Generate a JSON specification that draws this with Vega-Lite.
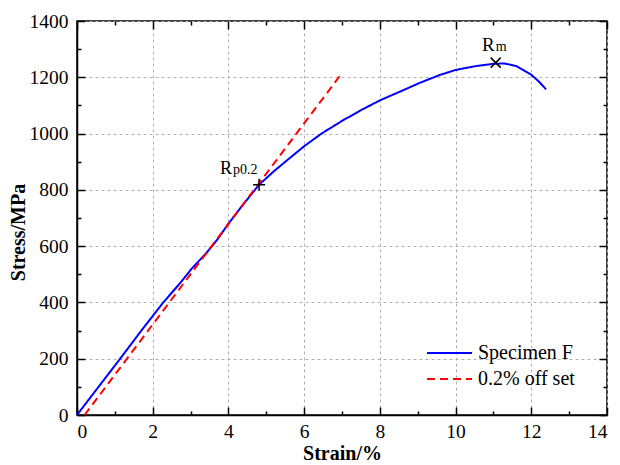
{
  "$schema": "https://vega.github.io/schema/vega-lite/v6.json",
  "width": 530,
  "height": 394,
  "autosize": "none",
  "padding": {"left": 77, "top": 21, "right": 13, "bottom": 50},
  "background": "white",
  "config": {
    "view": {"stroke": "black", "strokeWidth": 1.5},
    "font": "Liberation Serif",
    "axis": {"tickColor": "black", "tickWidth": 1.5, "domainColor": "black", "domainWidth": 1.5, "labelColor": "black", "titleColor": "black", "labelFont": "Liberation Serif", "titleFont": "Liberation Serif"},
    "legend": {"labelFont": "Liberation Serif"},
    "text": {"font": "Liberation Serif"}
  },
  "datasets": {
    "curves": [
      {"series": "Specimen F", "strain": 0, "stress": 0},
      {"series": "Specimen F", "strain": 0.5, "stress": 88},
      {"series": "Specimen F", "strain": 1.14, "stress": 200},
      {"series": "Specimen F", "strain": 1.7, "stress": 300},
      {"series": "Specimen F", "strain": 2.28, "stress": 400},
      {"series": "Specimen F", "strain": 2.72, "stress": 468},
      {"series": "Specimen F", "strain": 3.03, "stress": 520},
      {"series": "Specimen F", "strain": 3.4, "stress": 573},
      {"series": "Specimen F", "strain": 3.7, "stress": 622},
      {"series": "Specimen F", "strain": 4.0, "stress": 680},
      {"series": "Specimen F", "strain": 4.4, "stress": 750},
      {"series": "Specimen F", "strain": 4.81, "stress": 818},
      {"series": "Specimen F", "strain": 5.2, "stress": 866},
      {"series": "Specimen F", "strain": 5.53, "stress": 903},
      {"series": "Specimen F", "strain": 6.0, "stress": 955},
      {"series": "Specimen F", "strain": 6.46, "stress": 1000},
      {"series": "Specimen F", "strain": 7.0, "stress": 1045},
      {"series": "Specimen F", "strain": 7.5, "stress": 1083},
      {"series": "Specimen F", "strain": 8.0, "stress": 1118},
      {"series": "Specimen F", "strain": 8.6, "stress": 1153},
      {"series": "Specimen F", "strain": 9.05, "stress": 1180},
      {"series": "Specimen F", "strain": 9.58, "stress": 1208},
      {"series": "Specimen F", "strain": 10.0, "stress": 1226},
      {"series": "Specimen F", "strain": 10.5, "stress": 1239},
      {"series": "Specimen F", "strain": 11.0, "stress": 1248},
      {"series": "Specimen F", "strain": 11.3, "stress": 1249},
      {"series": "Specimen F", "strain": 11.6, "stress": 1240},
      {"series": "Specimen F", "strain": 12.0, "stress": 1209},
      {"series": "Specimen F", "strain": 12.2, "stress": 1185},
      {"series": "Specimen F", "strain": 12.39, "stress": 1157},
      {"series": "0.2% off set", "strain": 0.2, "stress": 0},
      {"series": "0.2% off set", "strain": 7.0, "stress": 1215}
    ],
    "points": [
      {"name": "Rp0.2", "main": "R", "sub": "p0.2", "strain": 4.81, "stress": 818},
      {"name": "Rm", "main": "R", "sub": "m", "strain": 11.06, "stress": 1252}
    ]
  },
  "layer": [
    {
      "data": {"name": "curves"},
      "mark": {"type": "line", "strokeWidth": 2},
      "encoding": {
        "x": {"field": "strain", "type": "quantitative", "scale": {"domain": [0, 14], "nice": false, "zero": false},
          "axis": {"orient": "bottom", "values": [0, 2, 4, 6, 8, 10, 12, 14], "format": "d", "grid": true, "gridDash": [3, 3], "gridColor": "#b0b0b0", "gridWidth": 1, "gridOpacity": 1, "tickSize": -8, "labelFont": "Liberation Serif", "labelFontSize": 19.5, "labelPadding": 15, "title": "Strain/%", "titleFont": "Liberation Serif", "titleFontSize": 20, "titleFontWeight": "bold", "titlePadding": 3}},
        "y": {"field": "stress", "type": "quantitative", "scale": {"domain": [0, 1400], "nice": false},
          "axis": {"orient": "left", "values": [0, 200, 400, 600, 800, 1000, 1200, 1400], "format": "d", "grid": true, "gridDash": [3, 3], "gridColor": "#b0b0b0", "gridWidth": 1, "gridOpacity": 1, "tickSize": -8, "labelFont": "Liberation Serif", "labelFontSize": 19.5, "labelPadding": 17, "title": "Stress/MPa", "titleFont": "Liberation Serif", "titleFontSize": 20, "titleFontWeight": "bold", "titleX": -59, "titleY": 211, "titleBaseline": "middle", "titleAlign": "center"}},
        "color": {"field": "series", "type": "nominal", "scale": {"domain": ["Specimen F", "0.2% off set"], "range": ["#0000ff", "#ff0000"]},
          "legend": {"title": null, "orient": "none", "legendX": 349, "legendY": 322, "symbolType": "stroke", "symbolSize": 2025, "symbolStrokeWidth": 2, "labelFont": "Liberation Serif", "labelFontSize": 20, "labelColor": "black", "labelOffset": 5, "clipHeight": 20, "rowPadding": 6, "padding": 0}},
        "strokeDash": {"field": "series", "type": "nominal", "scale": {"domain": ["Specimen F", "0.2% off set"], "range": [[1, 0], [8, 5]]},
          "legend": {"title": null, "orient": "none", "legendX": 349, "legendY": 322, "symbolType": "stroke", "symbolSize": 2025, "symbolStrokeWidth": 2, "labelFont": "Liberation Serif", "labelFontSize": 20, "labelColor": "black", "labelOffset": 5, "clipHeight": 20, "rowPadding": 6, "padding": 0}}
      }
    },
    {
      "data": {"name": "points"},
      "mark": {"type": "point", "filled": false, "stroke": "black", "strokeWidth": 1.5, "opacity": 1},
      "encoding": {
        "x": {"field": "strain", "type": "quantitative", "axis": {"orient": "top", "values": [0, 2, 4, 6, 8, 10, 12, 14], "tickSize": -8, "labels": false, "grid": false, "domain": false, "title": null}},
        "y": {"field": "stress", "type": "quantitative", "axis": {"orient": "right", "values": [0, 200, 400, 600, 800, 1000, 1200, 1400], "tickSize": -8, "labels": false, "grid": false, "domain": false, "title": null}},
        "shape": {"field": "name", "type": "nominal", "scale": {"domain": ["Rp0.2", "Rm"], "range": ["M-1,0L1,0M0,-1L0,1", "M-1,-1L1,1M-1,1L1,-1"]}, "legend": null},
        "size": {"field": "name", "type": "nominal", "scale": {"domain": ["Rp0.2", "Rm"], "range": [144, 100]}, "legend": null}
      }
    },
    {
      "data": {"name": "points"},
      "transform": [{"filter": "datum.name == 'Rp0.2'"}],
      "mark": {"type": "text", "align": "right", "baseline": "alphabetic", "fontSize": 18, "dx": -27, "dy": -11, "color": "black", "font": "Liberation Serif"},
      "encoding": {
        "x": {"field": "strain", "type": "quantitative", "axis": {"orient": "bottom", "values": [1, 3, 5, 7, 9, 11, 13], "tickSize": -4, "labels": false, "grid": false, "domain": false, "title": null}},
        "y": {"field": "stress", "type": "quantitative", "axis": {"orient": "left", "values": [100, 300, 500, 700, 900, 1100, 1300], "tickSize": -4, "labels": false, "grid": false, "domain": false, "title": null}},
        "text": {"field": "main"}
      }
    },
    {
      "data": {"name": "points"},
      "transform": [{"filter": "datum.name == 'Rp0.2'"}],
      "mark": {"type": "text", "align": "left", "baseline": "alphabetic", "fontSize": 14, "dx": -26, "dy": -11, "color": "black", "font": "Liberation Serif"},
      "encoding": {
        "x": {"field": "strain", "type": "quantitative", "axis": {"orient": "top", "values": [1, 3, 5, 7, 9, 11, 13], "tickSize": -4, "labels": false, "grid": false, "domain": false, "title": null}},
        "y": {"field": "stress", "type": "quantitative", "axis": {"orient": "right", "values": [100, 300, 500, 700, 900, 1100, 1300], "tickSize": -4, "labels": false, "grid": false, "domain": false, "title": null}},
        "text": {"field": "sub"}
      }
    },
    {
      "data": {"name": "points"},
      "transform": [{"filter": "datum.name == 'Rm'"}],
      "mark": {"type": "text", "align": "right", "baseline": "alphabetic", "fontSize": 19, "dx": -1, "dy": -12, "color": "black", "font": "Liberation Serif"},
      "encoding": {
        "x": {"field": "strain", "type": "quantitative", "axis": null},
        "y": {"field": "stress", "type": "quantitative", "axis": null},
        "text": {"field": "main"}
      }
    },
    {
      "data": {"name": "points"},
      "transform": [{"filter": "datum.name == 'Rm'"}],
      "mark": {"type": "text", "align": "left", "baseline": "alphabetic", "fontSize": 14, "dx": 0, "dy": -12, "color": "black", "font": "Liberation Serif"},
      "encoding": {
        "x": {"field": "strain", "type": "quantitative", "axis": null},
        "y": {"field": "stress", "type": "quantitative", "axis": null},
        "text": {"field": "sub"}
      }
    }
  ],
  "resolve": {"axis": {"x": "independent", "y": "independent"}}
}
